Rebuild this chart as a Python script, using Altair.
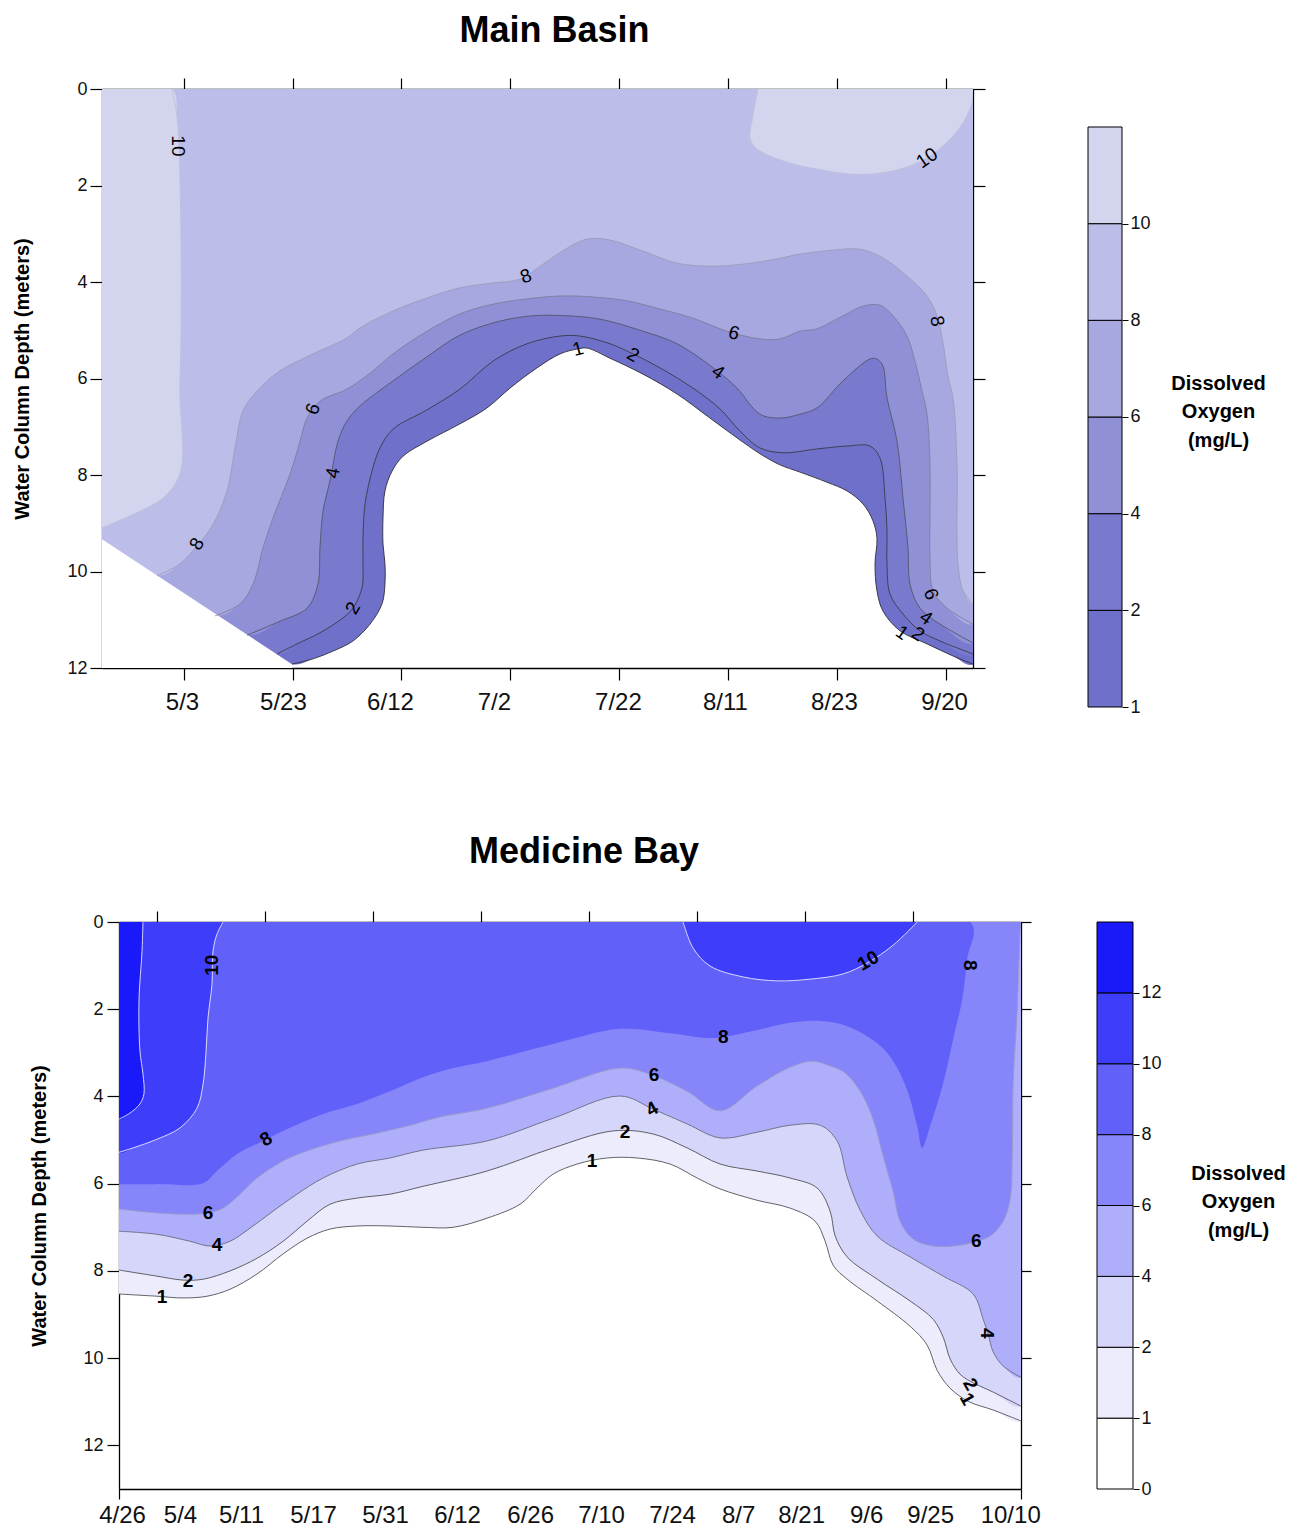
import altair as alt
import pandas as pd

FONT = "Liberation Sans"

# ======================= MAIN BASIN =======================
# x : position along the sampling-date axis (date ticks at 7.5, 17.5, ... 77.5)
# d : water-column depth in metres
MN_X_TICKS = [7.5, 17.5, 27.5, 37.5, 47.5, 57.5, 67.5, 77.5]
MN_DATE_POS = [7.35, 16.62, 26.45, 36.0, 47.39, 57.22, 67.23, 77.34]
MN_DATES = ["5/3", "5/23", "6/12", "7/2", "7/22", "8/11", "8/23", "9/20"]
MN_DEPTH_TICKS = [0, 2, 4, 6, 8, 10, 12]
MN_BANDS = ["1-2", "2-4", "4-6", "6-8", "8-10", "10-12"]
MN_BAR_LABELS = ["1", "2", "4", "6", "8", "10"]
MN_LEFT_BOTTOM = 9.33  # depth where the sampled section ends on the left edge
MN_MAX_DEPTH = 12

MN_C1 = [(17.45, 11.92), (19.38, 11.81), (21.22, 11.65), (23.05, 11.44), (24.62, 11.09), (25.72, 10.67),
         (25.99, 10.26), (25.99, 9.84), (25.81, 9.43), (25.81, 8.89), (25.99, 8.33), (26.64, 7.92),
         (27.65, 7.61), (29.85, 7.30), (32.88, 6.94), (35.36, 6.61), (37.47, 6.20), (39.95, 5.78),
         (42.07, 5.49), (43.63, 5.39), (44.55, 5.37), (46.66, 5.58), (49.69, 5.91), (52.81, 6.32),
         (55.84, 6.82), (58.32, 7.23), (60.44, 7.56), (62.27, 7.79), (64.11, 7.94), (66.59, 8.15),
         (68.43, 8.33), (69.90, 8.60), (70.81, 8.95), (71.18, 9.31), (71.00, 9.84), (71.18, 10.40),
         (71.73, 10.82), (73.30, 11.23), (75.78, 11.50), (78.16, 11.75), (80.00, 11.92)]
MN_C2 = [(16.07, 11.71), (17.91, 11.50), (20.02, 11.27), (22.14, 10.96), (23.05, 10.76), (23.88, 10.34),
         (23.97, 9.84), (23.97, 9.31), (24.16, 8.60), (24.80, 7.92), (25.53, 7.44), (26.73, 7.05),
         (29.85, 6.65), (32.88, 6.22), (35.91, 5.64), (39.04, 5.28), (42.07, 5.12), (43.90, 5.12),
         (46.66, 5.28), (48.77, 5.49), (51.25, 5.78), (54.28, 6.20), (56.76, 6.63), (58.60, 7.09),
         (60.44, 7.44), (62.55, 7.54), (65.67, 7.46), (68.43, 7.40), (70.54, 7.40), (71.46, 7.65),
         (71.92, 8.48), (72.10, 9.16), (72.10, 9.84), (72.38, 10.47), (73.57, 10.88), (75.13, 11.23),
         (76.97, 11.44), (80.00, 11.71)]
MN_C4 = [(13.32, 11.32), (16.35, 11.03), (18.83, 10.76), (19.84, 10.26), (20.02, 9.51), (20.30, 8.75),
         (20.94, 8.12), (21.68, 7.30), (22.50, 6.88), (23.70, 6.57), (26.73, 6.05), (29.85, 5.55),
         (32.88, 5.10), (36.56, 4.81), (39.59, 4.70), (42.71, 4.70), (45.74, 4.77), (49.69, 5.02),
         (52.81, 5.28), (56.49, 5.84), (58.32, 6.20), (60.44, 6.74), (62.27, 6.82), (64.11, 6.74),
         (65.67, 6.61), (68.06, 6.05), (70.81, 5.58), (71.64, 5.70), (72.10, 6.40), (73.02, 7.30),
         (73.57, 8.48), (74.03, 9.51), (74.21, 10.26), (75.13, 10.76), (76.97, 11.09), (80.00, 11.48)]
MN_C6 = [(10.38, 10.92), (12.68, 10.67), (13.87, 10.26), (14.79, 9.51), (15.71, 8.89), (17.27, 7.98),
         (18.19, 7.30), (18.83, 6.82), (20.02, 6.47), (22.50, 6.22), (24.62, 5.89), (26.73, 5.49),
         (29.85, 5.02), (32.88, 4.66), (35.91, 4.46), (39.04, 4.35), (42.07, 4.29), (45.10, 4.31),
         (48.22, 4.39), (51.25, 4.56), (54.28, 4.75), (57.41, 5.02), (60.44, 5.18), (62.27, 5.18),
         (64.11, 5.02), (65.67, 4.97), (68.06, 4.70), (69.90, 4.50), (71.46, 4.48), (72.65, 4.70),
         (73.94, 5.12), (74.67, 5.64), (75.32, 6.26), (75.78, 6.74), (76.05, 7.77), (76.05, 8.81),
         (76.05, 9.72), (76.33, 10.40), (77.61, 10.76), (80.00, 11.09)]
MN_C8 = [(5.05, 10.09), (7.16, 9.84), (8.73, 9.47), (10.20, 9.02), (11.48, 8.33), (12.22, 7.44),
         (12.95, 6.67), (14.24, 6.26), (16.35, 5.84), (19.38, 5.49), (22.50, 5.16), (23.70, 4.95),
         (26.73, 4.60), (29.85, 4.33), (32.88, 4.12), (35.91, 4.02), (38.39, 3.94), (40.51, 3.63),
         (42.71, 3.30), (44.55, 3.11), (46.66, 3.13), (49.69, 3.36), (52.81, 3.61), (55.84, 3.67),
         (58.87, 3.63), (62.00, 3.52), (64.11, 3.42), (67.14, 3.34), (69.62, 3.32), (71.73, 3.50),
         (73.94, 3.88), (75.78, 4.29), (76.69, 4.70), (77.25, 5.26), (77.70, 5.95), (78.16, 6.40),
         (78.53, 7.77), (78.53, 9.16), (78.62, 9.84), (79.08, 10.40), (80.00, 10.67)]
MN_C10A = [(6.43, 0.0), (6.89, 0.56), (7.07, 1.12), (7.16, 1.80), (7.26, 3.19), (7.26, 5.12), (7.16, 6.40),
           (7.35, 7.09), (7.35, 7.77), (6.89, 8.12), (5.60, 8.48), (3.49, 8.75), (1.01, 9.00), (0.0, 9.10)]
MN_C10B = [(60.25, 0.0), (59.79, 0.56), (59.52, 1.02), (60.16, 1.24), (62.55, 1.49), (65.67, 1.66),
           (68.70, 1.76), (70.81, 1.76), (73.30, 1.66), (75.78, 1.43), (77.89, 1.04), (79.08, 0.70),
           (79.91, 0.29), (80.00, 0.08)]
MN_LABELS = [("10", 6.98, 1.18, 90), ("10", 75.78, 1.43, 325), ("8", 8.73, 9.43, 300), ("6", 19.38, 6.63, 290),
             ("4", 21.22, 7.96, 280), ("2", 23.05, 10.76, 300), ("8", 38.94, 3.88, 340), ("1", 43.72, 5.39, 345),
             ("2", 48.77, 5.51, 30), ("6", 58.05, 5.06, 15), ("4", 56.58, 5.87, 35), ("8", 76.69, 4.81, 80),
             ("6", 76.14, 10.47, 70), ("4", 75.68, 10.96, 35), ("2", 74.95, 11.30, 35), ("1", 73.48, 11.27, 35)]

# ======================= MEDICINE BAY =======================
MD_TOP_TICKS = [3.5, 13.5, 23.5, 33.5, 43.5, 53.5, 63.5, 73.5]
MD_EDGES = [0, 83.5]
MD_DATE_POS = [0.28, 5.65, 11.30, 17.96, 24.63, 31.30, 38.06, 44.63, 51.20, 57.31, 63.15, 69.17, 75.09, 82.50]
MD_DATES = ["4/26", "5/4", "5/11", "5/17", "5/31", "6/12", "6/26", "7/10", "7/24", "8/7", "8/21", "9/6",
            "9/25", "10/10"]
MD_DEPTH_TICKS = [0, 2, 4, 6, 8, 10, 12]
MD_BANDS = ["0-1", "1-2", "2-4", "4-6", "6-8", "8-10", "10-12", "12-14"]
MD_BAR_LABELS = ["0", "1", "2", "4", "6", "8", "10", "12"]

MD_C1 = [(0, 8.53), (3.52, 8.58), (5.93, 8.62), (8.15, 8.58), (10.28, 8.42), (12.78, 8.07), (15.19, 7.61),
         (17.41, 7.25), (19.54, 7.04), (22.04, 6.97), (25.09, 6.97), (28.15, 7.00), (30.93, 7.00), (34.07, 6.79),
         (37.13, 6.47), (38.70, 6.10), (40.19, 5.78), (42.41, 5.55), (45.19, 5.41), (47.96, 5.41), (51.02, 5.55),
         (53.52, 5.87), (55.65, 6.12), (59.07, 6.38), (62.13, 6.56), (64.44, 6.86), (65.37, 7.32), (66.11, 7.87),
         (67.41, 8.19), (70.19, 8.69), (73.24, 9.27), (74.81, 9.70), (75.74, 10.28), (76.94, 10.69),
         (78.61, 10.99), (80.93, 11.19), (83.5, 11.44)]
MD_C2 = [(0, 7.98), (3.52, 8.12), (5.93, 8.21), (7.78, 8.19), (10.28, 8.00), (12.78, 7.71), (15.19, 7.32),
         (17.41, 6.86), (19.54, 6.47), (22.04, 6.33), (25.09, 6.24), (28.15, 6.06), (34.07, 5.71), (40.19, 5.18),
         (45.74, 4.79), (49.44, 4.86), (52.59, 5.18), (55.65, 5.55), (59.07, 5.71), (62.13, 5.87), (64.63, 6.10),
         (65.83, 6.63), (66.30, 7.20), (67.41, 7.68), (70.19, 8.19), (73.24, 8.69), (75.37, 9.11), (76.30, 9.52),
         (76.94, 10.02), (77.87, 10.37), (78.80, 10.53), (80.93, 10.78), (83.5, 11.10)]
MD_C4 = [(0, 7.09), (3.52, 7.16), (6.57, 7.32), (8.43, 7.43), (10.28, 7.32), (12.13, 7.02), (14.26, 6.63),
         (16.48, 6.24), (18.89, 5.87), (22.04, 5.55), (25.09, 5.41), (28.15, 5.23), (34.07, 5.02), (40.19, 4.50),
         (46.39, 3.99), (49.44, 4.29), (52.59, 4.63), (55.65, 4.95), (59.07, 4.82), (62.13, 4.66), (64.91, 4.66),
         (66.48, 5.02), (67.41, 5.85), (68.61, 6.61), (70.19, 7.20), (73.24, 7.68), (76.30, 8.12), (79.07, 8.53),
         (80.00, 9.11), (80.46, 9.45), (80.93, 9.86), (81.85, 10.18), (83.5, 10.44)]
MD_C6 = [(0, 6.58), (3.52, 6.67), (6.57, 6.70), (8.24, 6.67), (9.63, 6.56), (11.20, 6.24), (12.78, 5.87),
         (15.19, 5.48), (17.41, 5.25), (20.46, 5.02), (23.52, 4.86), (26.67, 4.68), (29.72, 4.47), (34.07, 4.27),
         (40.19, 3.81), (46.39, 3.35), (49.17, 3.49), (52.59, 3.88), (55.65, 4.33), (59.07, 3.76), (62.13, 3.33),
         (64.17, 3.19), (65.83, 3.30), (67.22, 3.46), (68.61, 3.88), (69.81, 4.52), (70.74, 5.37), (71.67, 6.19),
         (72.31, 6.86), (73.52, 7.27), (75.37, 7.43), (77.87, 7.41), (79.35, 7.32), (80.65, 7.20), (81.85, 6.86),
         (82.50, 6.35), (82.69, 5.37), (82.78, 3.69), (83.15, 2.02), (83.43, 0.18), (83.5, 0)]
MD_C8 = [(0, 6.01), (3.52, 6.01), (7.78, 5.99), (9.07, 5.71), (10.93, 5.32), (13.33, 5.02), (15.83, 4.72),
         (18.89, 4.40), (22.04, 4.17), (25.09, 3.88), (28.15, 3.56), (30.93, 3.35), (34.07, 3.19), (40.19, 2.80),
         (46.39, 2.45), (51.02, 2.55), (55.00, 2.66), (58.70, 2.50), (61.85, 2.32), (64.91, 2.27), (67.41, 2.39),
         (70.19, 2.78), (71.67, 3.19), (72.96, 3.85), (73.89, 4.68), (74.35, 5.18), (75.09, 4.68), (76.30, 3.69),
         (77.22, 2.68), (78.06, 1.77), (78.52, 0.85), (78.80, 0)]
MD_C10A = [(9.63, 0), (9.07, 0.28), (8.70, 0.67), (8.61, 1.42), (8.24, 2.20), (8.06, 2.96), (7.78, 3.72),
           (7.22, 4.27), (5.65, 4.72), (3.52, 4.98), (1.30, 5.18), (0, 5.28)]
MD_C10B = [(52.22, 0), (53.15, 0.60), (54.72, 1.01), (57.78, 1.26), (60.93, 1.35), (63.98, 1.31), (67.04, 1.19),
           (69.26, 0.94), (71.67, 0.53), (73.89, 0)]
MD_C12 = [(2.22, 0), (2.13, 0.67), (1.85, 1.81), (1.94, 2.96), (2.22, 3.49), (2.31, 3.94), (1.94, 4.17),
          (1.02, 4.38), (0, 4.52)]
MD_LABELS = [("10", 8.61, 0.99, 270), ("8", 13.61, 4.98, 330), ("6", 8.24, 6.67, 0), ("4", 9.07, 7.41, 0),
             ("2", 6.39, 8.23, 0), ("1", 3.98, 8.60, 0), ("10", 69.35, 0.89, 330), ("8", 78.80, 0.99, 90),
             ("8", 55.93, 2.64, 0), ("6", 49.54, 3.51, 0), ("4", 49.35, 4.29, 330), ("2", 46.85, 4.82, 0),
             ("1", 43.80, 5.48, 0), ("6", 79.35, 7.32, 0), ("4", 80.37, 9.43, 90), ("2", 78.80, 10.60, 60),
             ("1", 78.52, 10.94, 60)]

# ======================= styles =======================
MN_COLORS = ["#6e70ca", "#797ace", "#8f90d6", "#a7a8e0", "#bcbee9", "#d3d4ee"]
MD_COLORS = ["#ffffff", "#ececfc", "#d6d6fa", "#aeaefa", "#8686fa", "#6161fa", "#3e3efa", "#1919fa"]
MN_LINE_COLORS = {"1": "#2e2e3a", "2": "#3a3a4a", "4": "#55556a", "6": "#7e7e9e", "8": "#9c9cba", "10": "#c0c0d8"}
MD_LINE_COLORS = {"1": "#505058", "2": "#505058", "4": "#6a6a80", "6": "#9a9ac8", "10": "#e8e8ff", "12": "#e8e8ff"}
CURVE = "catmull-rom"

# ======================= region outlines built from the contours =======================
MN_X0, MN_X1 = 0, 80
MD_X0, MD_X1 = 0, 83.5
MN_FILLS = [
    ("1-2", [[(MN_X0, 0), (MN_X1, 0)] + MN_C1[::-1] + [(MN_X0, MN_LEFT_BOTTOM)]]),
    ("2-4", [[(MN_X0, 0), (MN_X1, 0)] + MN_C2[::-1] + [(MN_X0, MN_LEFT_BOTTOM)]]),
    ("4-6", [[(MN_X0, 0), (MN_X1, 0)] + MN_C4[::-1] + [(MN_X0, MN_LEFT_BOTTOM)]]),
    ("6-8", [[(MN_X0, 0), (MN_X1, 0)] + MN_C6[::-1] + [(MN_X0, MN_LEFT_BOTTOM)]]),
    ("8-10", [[(MN_X0, 0), (MN_X1, 0)] + MN_C8[::-1] + [(MN_X0, MN_LEFT_BOTTOM)]]),
    ("10-12", [[(MN_X0, 0)] + MN_C10A, MN_C10B + [(MN_X1, 0)]]),
]
# unsampled wedge under the straight lower-left edge of the section
MN_UNSAMPLED = [(MN_X0, MN_LEFT_BOTTOM), MN_C1[0], (MN_C1[0][0], MN_MAX_DEPTH), (MN_X0, MN_MAX_DEPTH)]
MN_LINES = [("1", [MN_C1]), ("2", [MN_C2]), ("4", [MN_C4]), ("6", [MN_C6]), ("8", [MN_C8]),
            ("10", [MN_C10A, MN_C10B])]
MD_FILLS = [
    ("1-2", [MD_C1 + [(MD_X1, 0), (MD_X0, 0)]]),
    ("2-4", [MD_C2 + [(MD_X1, 0), (MD_X0, 0)]]),
    ("4-6", [MD_C4 + [(MD_X1, 0), (MD_X0, 0)]]),
    ("6-8", [MD_C6 + [(MD_X0, 0)]]),
    ("8-10", [MD_C8 + [(MD_X0, 0)]]),
    ("10-12", [MD_C10A + [(MD_X0, 0)], MD_C10B]),
    ("12-14", [MD_C12 + [(MD_X0, 0)]]),
]
MD_LINES = [("1", [MD_C1]), ("2", [MD_C2]), ("4", [MD_C4]), ("6", [MD_C6]), ("10", [MD_C10A, MD_C10B]),
            ("12", [MD_C12])]


def rows_from(groups):
    rows = []
    for grp, pieces in groups:
        for p, pts in enumerate(pieces):
            for k, (x, d) in enumerate(pts):
                rows.append({"grp": grp, "piece": "%s_%d" % (grp, p), "k": k, "x": x, "d": d})
    return pd.DataFrame(rows)


def label_expr(pos, labels):
    p = "[" + ",".join(str(v) for v in pos) + "]"
    lab = "[" + ",".join("'%s'" % s for s in labels) + "]"
    return "indexof(%s, datum.value) >= 0 ? %s[indexof(%s, datum.value)] : ''" % (p, lab, p)


BASE_AX = dict(domainColor="black", domainWidth=1.3, tickWidth=1.2, grid=False, labelFont=FONT,
               labelColor="#111111", titleFont=FONT, titleColor="black")


def panel(fills, lines, labels, bands, colors, line_colors, xs, ys, axes, width, height, title, lab_style,
          mask=None):
    fill_df = rows_from(fills)
    line_df = rows_from(lines)
    lab_df = pd.DataFrame(labels, columns=["t", "x", "d", "a"])
    cscale = alt.Scale(domain=bands, range=colors)
    layers = []
    for i, (grp, _) in enumerate(fills):
        layers.append(
            alt.Chart(fill_df).transform_filter(alt.datum.grp == grp)
            .mark_line(filled=True, strokeWidth=0, interpolate=CURVE, clip=True)
            .encode(x=alt.X("x:Q", scale=xs, axis=axes["bottom"] if i == 0 else None),
                    y=alt.Y("d:Q", scale=ys, axis=axes["left"] if i == 0 else None),
                    color=alt.Color("grp:N", scale=cscale, legend=None),
                    detail="piece:N", order="k:Q"))
    if mask is not None:
        mask_df = pd.DataFrame([{"k": k, "x": x, "d": d} for k, (x, d) in enumerate(mask)])
        layers.append(
            alt.Chart(mask_df).mark_line(filled=True, fill="white", strokeWidth=0, interpolate="linear",
                                         clip=True)
            .encode(x=alt.X("x:Q", scale=xs, axis=None), y=alt.Y("d:Q", scale=ys, axis=None), order="k:Q"))
    for i, (grp, _) in enumerate(lines):
        layers.append(
            alt.Chart(line_df).transform_filter(alt.datum.grp == grp)
            .mark_line(color=line_colors[grp], strokeWidth=0.9, interpolate=CURVE, clip=True)
            .encode(x=alt.X("x:Q", scale=xs, axis=axes["top"] if i == 0 else None),
                    y=alt.Y("d:Q", scale=ys, axis=axes["right"] if i == 0 else None),
                    detail="piece:N", order="k:Q"))
    layers.append(
        alt.Chart(lab_df).mark_text(color="black", align="center", baseline="middle", font=FONT, **lab_style)
        .encode(x=alt.X("x:Q", scale=xs, axis=None), y=alt.Y("d:Q", scale=ys, axis=None),
                text="t:N", angle=alt.Angle("a:Q", scale=None)))
    return alt.layer(*layers).properties(width=width, height=height, title=title)


def colorbar(bands, colors, labels, top, width, height, title_x, title_y):
    df = pd.DataFrame({"band": bands, "lo": list(range(len(bands))), "hi": list(range(1, len(bands) + 1)),
                       "x0": 0, "x1": 1})
    return alt.Chart(df).mark_rect(stroke="black", strokeWidth=1).encode(
        x=alt.X("x0:Q", scale=alt.Scale(domain=[0, 1]), axis=None),
        x2="x1",
        y=alt.Y("lo:Q", scale=alt.Scale(domain=[0, top], nice=False, zero=False),
                axis=alt.Axis(orient="right", values=list(range(len(labels))),
                              labelExpr="%s[datum.value]" % ("[" + ",".join("'%s'" % s for s in labels) + "]"),
                              tickSize=6, tickColor="black", tickWidth=1, domain=False, grid=False,
                              labelFont=FONT, labelFontSize=18, labelColor="#111111", labelPadding=2,
                              labelBaseline="middle", labelAlign="left",
                              title=["Dissolved", "Oxygen", "(mg/L)"], titleAngle=0, titleAlign="center",
                              titleBaseline="top", titleX=title_x, titleY=title_y, titleFont=FONT,
                              titleFontSize=20, titleFontWeight="bold", titleLineHeight=28.5,
                              titleColor="black")),
        y2="hi",
        color=alt.Color("band:N", scale=alt.Scale(domain=bands, range=colors), legend=None),
    ).properties(width=width, height=height)


SPACER_DF = pd.DataFrame({"s": [0]})


def spacer(w, h):
    return alt.Chart(SPACER_DF).mark_point(opacity=0).encode(
        x=alt.X("s:Q", axis=None), y=alt.Y("s:Q", axis=None)).properties(width=w, height=h)


# ---------------- Main Basin panel ----------------
mn_xs = alt.Scale(domain=[MN_X0, MN_X1], nice=False, zero=False)
mn_ys = alt.Scale(domain=[0, 12], reverse=True, nice=False, zero=False)
mn_axes = {
    "bottom": alt.Axis(orient="bottom", values=MN_X_TICKS + MN_DATE_POS,
                       labelExpr=label_expr(MN_DATE_POS, MN_DATES),
                       tickColor={"condition": {"test": "datum.value % 10 == 7.5", "value": "black"},
                                  "value": "transparent"},
                       tickSize=12, labelFontSize=24, labelPadding=10, labelOverlap=False, labelFlush=False,
                       title=None, **BASE_AX),
    "left": alt.Axis(orient="left", values=MN_DEPTH_TICKS, tickSize=12, tickColor="black", labelFontSize=18,
                     labelPadding=3, title="Water Column Depth (meters)", titleFontSize=20,
                     titleFontWeight="bold", titlePadding=34, **BASE_AX),
    "top": alt.Axis(orient="top", values=MN_X_TICKS, labels=False, tickSize=11, tickColor="black",
                    title=None, **BASE_AX),
    "right": alt.Axis(orient="right", values=MN_DEPTH_TICKS, labels=False, tickSize=12, tickColor="black",
                      title=None, **BASE_AX),
}
mn_title = alt.TitleParams("Main Basin", font=FONT, fontSize=36, fontWeight="bold", color="black",
                           anchor="middle", frame="group", dx=17, offset=27)
main_plot = panel(MN_FILLS, MN_LINES, MN_LABELS, MN_BANDS, MN_COLORS, MN_LINE_COLORS, mn_xs, mn_ys, mn_axes,
                  871, 579, mn_title, {"fontSize": 19}, mask=MN_UNSAMPLED)
main_bar = colorbar(MN_BANDS, MN_COLORS, MN_BAR_LABELS, 6.393, 34, 618, 96, 284)

# ---------------- Medicine Bay panel ----------------
md_xs = alt.Scale(domain=[MD_X0, MD_X1], nice=False, zero=False)
md_ys = alt.Scale(domain=[0, 13], reverse=True, nice=False, zero=False)
md_axes = {
    "bottom": alt.Axis(orient="bottom", values=MD_EDGES + MD_DATE_POS,
                       labelExpr=label_expr(MD_DATE_POS, MD_DATES),
                       tickColor={"condition": {"test": "datum.value == 0 || datum.value == 83.5",
                                                "value": "black"}, "value": "transparent"},
                       tickSize=10, labelFontSize=24, labelPadding=4, labelOverlap=False, labelFlush=False,
                       title=None, **BASE_AX),
    "left": alt.Axis(orient="left", values=MD_DEPTH_TICKS, tickSize=12, tickColor="black", labelFontSize=18,
                     labelPadding=4, title="Water Column Depth (meters)", titleFontSize=20,
                     titleFontWeight="bold", titlePadding=33, **BASE_AX),
    "top": alt.Axis(orient="top", values=MD_TOP_TICKS, labels=False, tickSize=11, tickColor="black",
                    title=None, **BASE_AX),
    "right": alt.Axis(orient="right", values=MD_DEPTH_TICKS, labels=False, tickSize=10, tickColor="black",
                      title=None, **BASE_AX),
}
md_title = alt.TitleParams("Medicine Bay", font=FONT, fontSize=36, fontWeight="bold", color="black",
                           anchor="middle", frame="group", dx=14, offset=39)
md_plot = panel(MD_FILLS, MD_LINES, MD_LABELS, MD_BANDS, MD_COLORS, MD_LINE_COLORS, md_xs, md_ys, md_axes,
                902, 567, md_title, {"fontSize": 19, "fontWeight": "bold"})
md_bar = colorbar(MD_BANDS, MD_COLORS, MD_BAR_LABELS, 8, 36, 567, 105, 241)

row1 = alt.hconcat(main_plot, main_bar, spacing=115, bounds="flush")
row2 = alt.hconcat(spacer(17, 10), md_plot, spacer(76, 10), md_bar, spacing=0, bounds="flush")

chart = alt.vconcat(row1, row2, spacing=118).resolve_scale(color="independent").properties(
    padding={"left": 4, "top": 5, "right": 0, "bottom": 0}
).configure(font=FONT).configure_view(stroke=None)

chart.save("out.html", embed_options={"renderer": "svg", "actions": False})
